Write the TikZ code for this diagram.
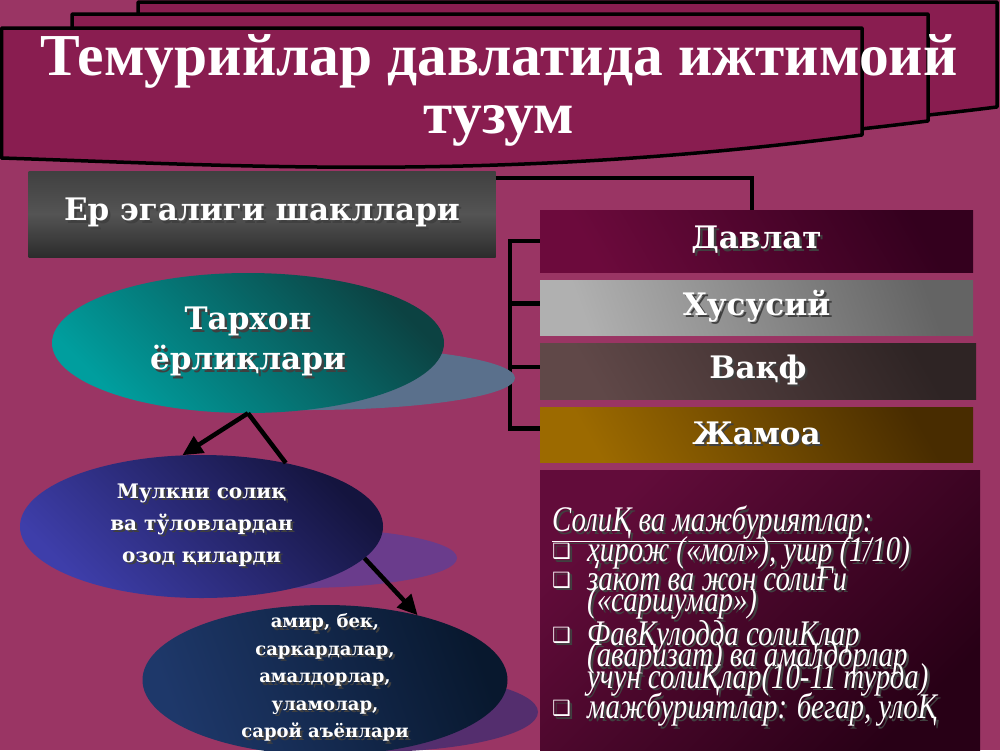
\documentclass[tikz,border=0pt]{standalone}
\usepackage{fontspec}
\setmainfont{Liberation Serif}
\newfontfamily\djserif{DejaVu Serif}
\newfontfamily\djsans{DejaVu Sans}
\newfontfamily\italfont[FakeStretch=0.8]{Liberation Serif}
\usetikzlibrary{shapes.geometric,arrows.meta}
\definecolor{bgc}{RGB}{154,53,100}
\definecolor{bannerc}{RGB}{137,29,80}
\definecolor{erTop}{RGB}{64,64,64}
\definecolor{erMid}{RGB}{84,84,84}
\definecolor{erBot}{RGB}{44,44,44}
\definecolor{davL}{RGB}{108,10,60}
\definecolor{davD}{RGB}{52,0,30}
\definecolor{xusL}{RGB}{176,176,176}
\definecolor{xusD}{RGB}{100,100,100}
\definecolor{vaqL}{RGB}{96,72,72}
\definecolor{vaqD}{RGB}{46,36,36}
\definecolor{jamL}{RGB}{156,106,0}
\definecolor{jamD}{RGB}{72,44,0}
\definecolor{solL}{RGB}{98,12,58}
\definecolor{solD}{RGB}{40,0,22}
\definecolor{tarL}{RGB}{0,158,158}
\definecolor{tarD}{RGB}{12,66,66}
\definecolor{tarS}{RGB}{90,112,140}
\definecolor{mulL}{RGB}{62,62,170}
\definecolor{mulD}{RGB}{20,20,62}
\definecolor{mulS}{RGB}{106,60,140}
\definecolor{amiL}{RGB}{30,56,106}
\definecolor{amiD}{RGB}{8,24,46}
\definecolor{amiS}{RGB}{84,46,110}
\colorlet{shc}{black!75}
\newcommand\shd[1]{\leavevmode\rlap{\kern2.5pt\raisebox{-2.5pt}{\textcolor{shc}{#1}}}#1}
\newcommand\bul{\makebox[35pt][l]{\raisebox{3pt}{\shd{\djsans\fontsize{21}{21}\selectfont ❑}}}}
\newcommand\ind{\hspace*{35pt}}
\begin{document}
\begin{tikzpicture}[x=1pt,y=-1pt,
  conn/.style={draw=black, line width=4.5pt},
  tip/.style={-{Triangle[length=20pt,width=19pt]}},
  banner/.style={fill=bannerc, draw=black, line width=3.5pt, line join=round},
  titlef/.style={text=white, font=\bfseries\fontsize{59.5}{60}\selectfont, inner sep=0pt},
  boxlbl/.style={text=white, font=\djserif\bfseries\fontsize{31}{40}\selectfont},
  rbox/.style={rectangle, inner sep=0pt, boxlbl},
  ell/.style={ellipse, inner sep=0pt, align=center, text=white}
]
\useasboundingbox (0,0) rectangle (1000,750);
\fill[bgc] (0,0) rectangle (1000,750);

% title banners
\draw[banner] (138,2) -- (997,2) -- (997,107) .. controls (638,152) and (388,137) .. (138,128) -- cycle;
\draw[banner] (72,14) -- (928,14) -- (928,121) .. controls (572,166) and (322,153) .. (72,143) -- cycle;
\draw[banner] (1.5,28) -- (862,28) -- (862,135) .. controls (500,182) and (250,166) .. (1.5,158) -- cycle;
\node[titlef, anchor=base] (t1) at (499,75) {Темурийлар давлатида ижтимоий};
\node[titlef, anchor=base] (t2) at (499,133) {тузум};

% land forms box
\node[rbox, minimum width=467pt, minimum height=86pt, top color=erTop, bottom color=erBot, middle color=erMid] (er) at (262,214) {\shd{Ер эгалиги шакллари}};

% right boxes
\node[rbox, minimum width=433pt, minimum height=62pt, top color=davD, bottom color=davL, shading angle=-60] (davlat) at (756.5,241) {\shd{Давлат}};
\node[rbox, minimum width=433pt, minimum height=55pt, top color=xusD, bottom color=xusL, shading angle=-70] (xususiy) at (756.5,307.5) {\shd{Хусусий}};
\node[rbox, minimum width=436pt, minimum height=56pt, top color=vaqD, bottom color=vaqL, shading angle=-60] (vaqf) at (758,371) {\shd{Вақф}};
\node[rbox, minimum width=433pt, minimum height=55pt, top color=jamD, bottom color=jamL, shading angle=-60] (jamoa) at (756.5,434.5) {\shd{Жамоа}};

% connectors on the right
\draw[conn] ([yshift=-7pt]er.north east) -| ([xshift=-4.5pt]davlat.north);
\coordinate (sp) at (510,0);
\coordinate (xw) at ([yshift=4pt]xususiy.west);
\coordinate (vw) at ([yshift=4pt]vaqf.west);
\coordinate (jw) at ([yshift=6pt]jamoa.west);
\draw[conn] (davlat.west) -- (sp |- davlat.west) -- (sp |- jw) -- (jw);
\draw[conn] (sp |- xw) -- (xw);
\draw[conn] (sp |- vw) -- (vw);

% taxes box
\node[rectangle, inner sep=0pt, minimum width=440pt, minimum height=285pt, top color=solL, bottom color=solD, shading angle=45] (soliq) at (760,612.5) {};
\node[anchor=north west, inner sep=0pt, align=left, text=white,
  font={\italfont\itshape\fontsize{36}{21.5}\selectfont\lineskiplimit=-100pt}] (soliqtxt) at (552,506) {%
\shd{\underline{СолиҚ ва мажбуриятлар:}}\\[8.5pt]
\bul\shd{ҳирож («мол»), ушр (1/10)}\\[7pt]
\bul\shd{закот ва жон солиҒи}\\
\ind\shd{(«саршумар»)}\\[12pt]
\bul\shd{ФавҚулодда солиҚлар}\\
\ind\shd{(аваризат) ва амалдорлар}\\
\ind\shd{учун солиҚлар(10-11 турда)}\\[9pt]
\bul\shd{мажбуриятлар: бегар, улоҚ}};

% ellipse shadows
\fill[tarS] (308,378) ellipse [x radius=207, y radius=32];
\fill[mulS] (300,558) ellipse [x radius=157, y radius=30];
\fill[amiS] (370,712) ellipse [x radius=168, y radius=40];

% ellipses
\node[ell, minimum width=392pt, minimum height=140pt, top color=tarD, bottom color=tarL, shading angle=-45,
  font=\djserif\bfseries\fontsize{31}{40}\selectfont] (tarxon) at (248,343) {\shd{Тархон}\\\shd{ёрлиқлари}};
\node[ell, minimum width=363pt, minimum height=143pt, top color=mulD, bottom color=mulL, shading angle=-45,
  font=\djserif\bfseries\fontsize{20}{32}\selectfont] (mulk) at (201.5,526.5) {\shd{Мулкни солиқ}\\\shd{ва тўловлардан}\\\shd{озод қиларди}};
\node[ell, minimum width=365pt, minimum height=150pt, top color=amiD, bottom color=amiL, shading angle=-70] (amir) at (325,680) {};
\node[align=center, text=white, inner sep=0pt, font=\djserif\bfseries\fontsize{18}{27.5}\selectfont] (amirtxt) at ([yshift=1pt]amir.center) {\shd{амир, бек,}\\\shd{саркардалар,}\\\shd{амалдорлар,}\\\shd{уламолар,}\\\shd{сарой аъёнлари}};

% arrows
\draw[conn, tip] (tarxon.south) -- (mulk.105);
\draw[conn] (tarxon.south) -- (mulk.37);
\draw[conn, tip] (mulk.-11) -- (amir.35);
\end{tikzpicture}
\end{document}
